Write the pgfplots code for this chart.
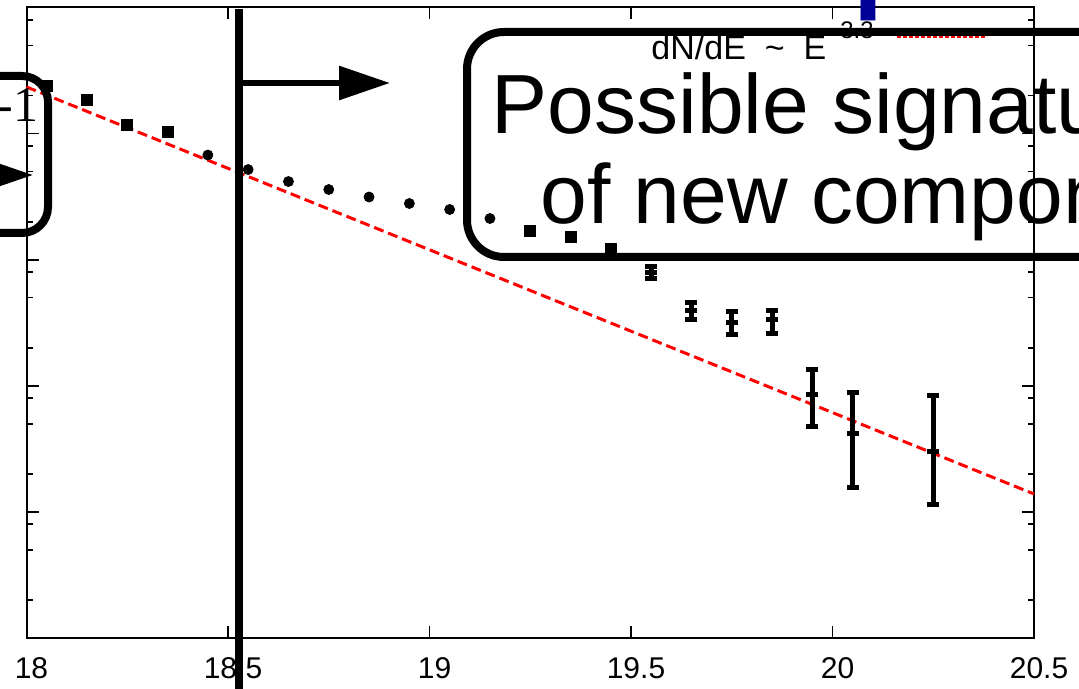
\documentclass[border=0pt]{standalone}
\usepackage{fontspec}
\setmainfont{Liberation Sans}
\newfontfamily\seriffont{Liberation Serif}
\usepackage{pgfplots}
\pgfplotsset{compat=1.18}
\usetikzlibrary{arrows.meta}
\definecolor{titleblue}{RGB}{0,0,150}

\begin{document}
\begin{tikzpicture}
% page area: 1079 x 689 units of 0.5pt, origin top left
\path[use as bounding box] (0pt,0pt) rectangle (539.5pt,-344.5pt);
\clip (0pt,0pt) rectangle (539.5pt,-344.5pt);

\begin{axis}[
  at={(13.25pt,-319pt)}, anchor=south west,
  width=503.75pt, height=315.25pt, scale only axis,
  xmin=18, xmax=20.5, ymin=1, ymax=1e5, ymode=log,
  axis line style={line width=1pt},
  tick style={line width=0.8pt, black},
  major tick length=6pt, minor tick length=3pt,
  xtick={18,18.5,19,19.5,20,20.5},
  xticklabels={18,18.5,19,19.5,20,20.5},
  minor x tick num=0,
  xticklabel style={font=\fontsize{15}{15}\selectfont, yshift=-6pt, xshift=2.5pt},
  /pgf/number format/assume math mode=true,
  ytick={1,10,100,1000,10000,100000},
  minor ytick={2,5,8,20,50,80,200,500,800,2000,5000,8000,20000,50000,80000},
  yticklabels={},
  clip=false,
  legend plot pos=right,
  legend style={draw=none, fill=none, inner sep=0pt,
    at={(rel axis cs:0.6199,0.9786)}, anchor=north west,
    font=\fontsize{17}{17}\selectfont,
    nodes={inner sep=0pt},
    /tikz/every odd column/.append style={column sep=11pt}},
]
% power-law reference line
\addplot[red, line width=1.5pt, dash pattern=on 5pt off 2.5pt,
  legend image code/.code={\draw[red, line width=1.5pt, dash pattern=on 2pt off 1pt] (0pt,2.5pt) -- (45pt,2.5pt);}]
  coordinates {(18,23440) (20.5,13.87)};
\addlegendentry{dN/dE\ \ \textasciitilde\ \ E\hspace{3pt}\raisebox{0.62em}{\fontsize{12}{12}\selectfont -3.3}}

% low-energy points
\addplot[only marks, mark=square*, mark size=2.75pt, black, forget plot]
  coordinates {(18.05,23840) (18.15,18460) (18.25,11700) (18.35,10390)
               (19.25,1690) (19.35,1514) (19.45,1216)};
\addplot[only marks, mark=*, mark size=2.5pt, black, forget plot]
  coordinates {(18.45,6761) (18.55,5190) (18.65,4169) (18.75,3603)
               (18.85,3142) (18.95,2791) (19.05,2501) (19.15,2122)};

% high-energy points with errors
\addplot[only marks, black, mark=-, mark size=3pt, mark options={line width=2.5pt}, forget plot,
  error bars/.cd, y dir=both, y explicit,
  error bar style={line width=2.5pt},
  error mark options={rotate=90, mark size=3pt, line width=2.5pt}]
  coordinates {
    (19.55,798)  += (0,93)   -= (0,82)
    (19.65,392)  += (0,69)   -= (0,59)
    (19.75,315)  += (0,70)   -= (0,62)
    (19.85,333)  += (0,59)   -= (0,75)
    (19.95,86.1) += (0,49.8) -= (0,38.1)
    (20.05,42.2) += (0,45.5) -= (0,26.5)
    (20.25,30.4) += (0,54.1) -= (0,19.05)
  };
\end{axis}

\begin{scope}[x=0.5pt, y=-0.5pt]
  % slide title above the plot
  \node[anchor=base west, inner sep=0pt, text=titleblue,
        font=\fontsize{54}{54}\selectfont\bfseries] at (391,-1) {new component};

  % threshold marker
  \draw[line width=4pt] (239,9) -- (239,700);
  \draw[line width=3pt, -{Triangle[length=25.5pt, width=16.5pt]}] (239,83) -- (390,83);

  % left call-out
  \draw[line width=4pt, rounded corners=13pt] (48,76) rectangle (-300,233);
  \node[anchor=base east, inner sep=0pt, font=\seriffont\fontsize{25}{25}\selectfont] at (39,122) {-1};
  \draw[line width=3pt, -{Triangle[length=25.5pt, width=16.5pt]}] (-150,175) -- (33,175);

  % right call-out
  \draw[line width=4pt, rounded corners=18.5pt] (467,32) rectangle (1400,257);
  \node[anchor=base west, inner sep=0pt, font=\fontsize{42}{42}\selectfont] at (491.5,134) {Possible signature};
  \node[anchor=base west, inner sep=0pt, font=\fontsize{42}{42}\selectfont] at (540,224) {of new component};
\end{scope}
\end{tikzpicture}
\end{document}
